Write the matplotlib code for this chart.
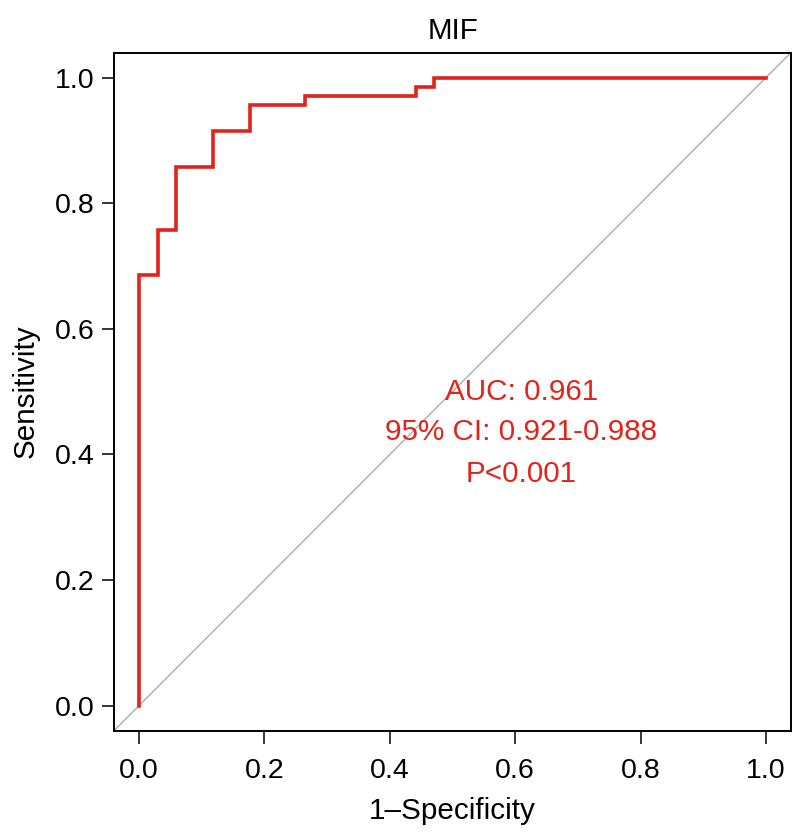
import matplotlib
matplotlib.use("Agg")
import matplotlib.pyplot as plt

plt.rcParams['font.family'] = ['Liberation Sans', 'DejaVu Sans']

# ROC step points (34 negatives, 70 positives)
fpr = [0.0, 0.0, 1/34, 1/34, 2/34, 2/34, 4/34, 4/34, 6/34, 6/34, 9/34, 9/34,
       15/34, 15/34, 16/34, 16/34, 1.0]
tpr = [0.0, 48/70, 48/70, 53/70, 53/70, 60/70, 60/70, 64/70, 64/70, 67/70, 67/70,
       68/70, 68/70, 69/70, 69/70, 1.0, 1.0]

title = "MIF"
notes = ["AUC: 0.961", "95% CI: 0.921-0.988", "P<0.001"]
note_y = [0.50, 0.435, 0.368]
ticks = [0.0, 0.2, 0.4, 0.6, 0.8, 1.0]

red = '#E2231A'
fs = 21.3

fig = plt.figure(figsize=(7.93, 8.34), dpi=100)
ax = fig.add_axes([0.1438, 0.1239, 0.8537, 0.8131])

ax.plot([-0.1, 1.1], [-0.1, 1.1], color='#A6A6A6', linewidth=0.9, zorder=1)
ax.plot(fpr, tpr, color=red, linewidth=2.6, zorder=2, solid_joinstyle='miter')

for t, y in zip(notes, note_y):
    ax.text(0.61, y, t, color=red, fontsize=fs, ha='center', va='center')

ax.set_xlim(-0.04, 1.04)
ax.set_ylim(-0.04, 1.04)
ax.set_xticks(ticks)
ax.set_yticks(ticks)
ax.set_xticklabels([f"{t:.1f}" for t in ticks])
ax.set_yticklabels([f"{t:.1f}" for t in ticks])
ax.tick_params(axis='both', labelsize=20.5, length=9, width=1.1, direction='out')
ax.tick_params(axis='x', pad=11)
ax.tick_params(axis='y', pad=5)
for s in ax.spines.values():
    s.set_linewidth(1.4)

ax.set_xlabel("1\u2013Specificity", fontsize=fs, labelpad=9)
ax.set_ylabel("Sensitivity", fontsize=fs, labelpad=11)
ax.set_title(title, fontsize=fs, pad=10)

fig.savefig("out.png", dpi=100)
